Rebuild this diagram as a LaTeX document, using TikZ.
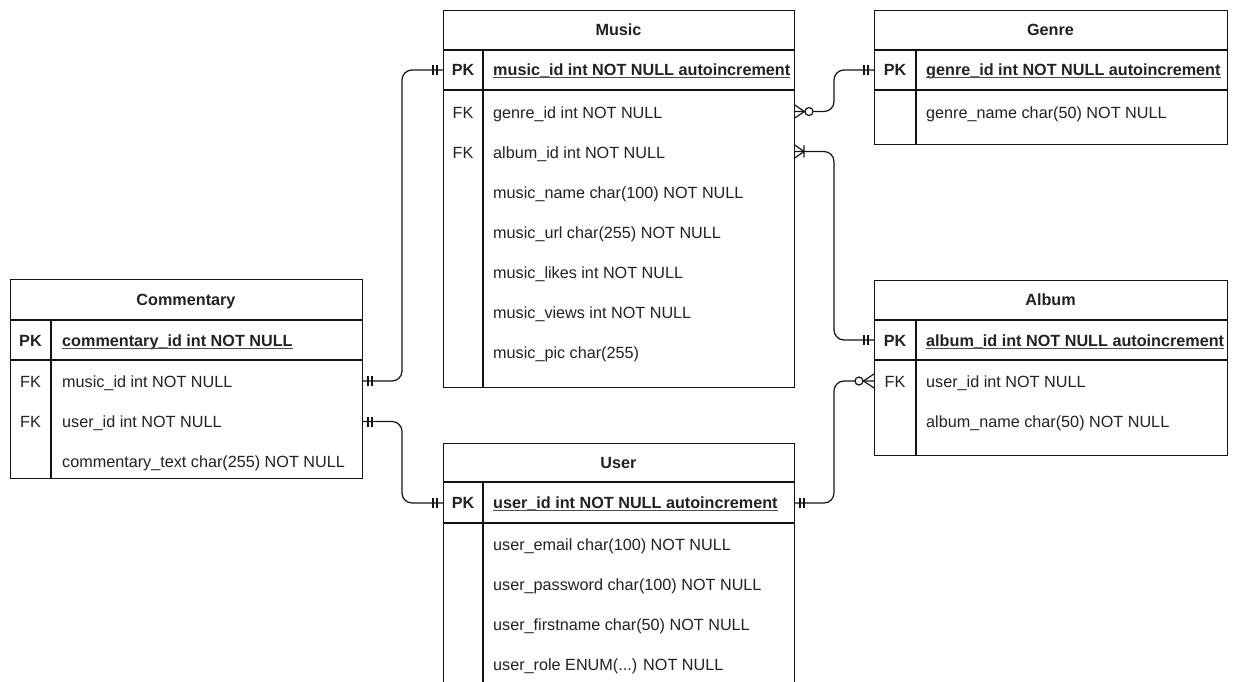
\documentclass[tikz,border=0pt]{standalone}
\usepackage{fontspec}
\setmainfont{Liberation Sans}
\definecolor{txt}{HTML}{222222}
\definecolor{ln}{HTML}{141414}
\begin{document}
\begin{tikzpicture}[x=1pt,y=-1pt,
  frame/.style={draw=ln, line width=1.2pt, fill=white, inner sep=0, anchor=north west},
  sep/.style={draw=ln, line width=1.2pt},
  ttl/.style={anchor=base, inner sep=0, font=\fontsize{16.2}{19}\selectfont\bfseries, text=txt},
  keyc/.style={anchor=base, inner sep=0, font=\fontsize{16.2}{19}\selectfont, text=txt},
  pkc/.style={anchor=base, inner sep=0, font=\fontsize{16.2}{19}\selectfont\bfseries, text=txt},
  fld/.style={anchor=base west, inner sep=0, font=\fontsize{16.2}{19}\selectfont, text=txt},
  pkf/.style={anchor=base west, inner sep=0, font=\fontsize{16.2}{19}\selectfont\bfseries, text=txt},
  uline/.style={draw=txt!80, line width=1pt},
  conn/.style={draw=ln, line width=1.2pt, rounded corners=10pt},
  mk/.style={draw=ln, line width=1.2pt},
  one/.pic={\draw[mk] (6,-5) -- (6,5) (10,-5) -- (10,5);},
  zeromany/.pic={\draw[mk] (0,-7) -- (10.5,0) -- (0,7);
                 \draw[mk, fill=white] (15,0) circle (4);},
  onemany/.pic={\draw[mk] (0,-7) -- (10,0) -- (0,7) (10,-6) -- (10,6);}
]
\useasboundingbox (0,0) rectangle (1234,682);
\clip (0,0) rectangle (1234,682);

% ---------------- Music ----------------
\node[frame, minimum width=351pt, minimum height=377pt] (music) at (443,10) {};
\draw[sep] (443,50) -- (794,50) (443,90) -- (794,90) (483,50) -- (483,387);
\node[ttl] (musicT) at (618.5,35.7) {Music};
\node[pkc] (musicPK) at (463,75.7) {PK};
\node[pkf] (musicId) at (493,75.7) {music\_id int NOT NULL autoincrement};
\draw[uline] ([yshift=-2pt]musicId.base west) -- ([yshift=-2pt]musicId.base east);
\node[keyc] (musicFK1) at (463,118.2) {FK};
\node[fld] (musicGenre) at (493,118.2) {genre\_id int NOT NULL};
\node[keyc] (musicFK2) at (463,158.2) {FK};
\node[fld] (musicAlbum) at (493,158.2) {album\_id int NOT NULL};
\node[fld] (musicName) at (493,198.2) {music\_name char(100) NOT NULL};
\node[fld] (musicUrl) at (493,238.2) {music\_url char(255) NOT NULL};
\node[fld] (musicLikes) at (493,278.2) {music\_likes int NOT NULL};
\node[fld] (musicViews) at (493,318.2) {music\_views int NOT NULL};
\node[fld] (musicPic) at (493,358.2) {music\_pic char(255)};

% ---------------- Genre ----------------
\node[frame, minimum width=353pt, minimum height=134pt] (genre) at (874,10) {};
\draw[sep] (874,50) -- (1227,50) (874,90) -- (1227,90) (916,50) -- (916,144);
\node[ttl] (genreT) at (1050.5,35.7) {Genre};
\node[pkc] (genrePK) at (895,75.7) {PK};
\node[pkf] (genreId) at (926,75.7) {genre\_id int NOT NULL autoincrement};
\draw[uline] ([yshift=-2pt]genreId.base west) -- ([yshift=-2pt]genreId.base east);
\node[fld] (genreName) at (926,118.2) {genre\_name char(50) NOT NULL};

% ---------------- Album ----------------
\node[frame, minimum width=353pt, minimum height=175pt] (album) at (874,280) {};
\draw[sep] (874,320) -- (1227,320) (874,360) -- (1227,360) (916,320) -- (916,455);
\node[ttl] (albumT) at (1050.5,305.7) {Album};
\node[pkc] (albumPK) at (895,346.2) {PK};
\node[pkf] (albumId) at (926,346.2) {album\_id int NOT NULL autoincrement};
\draw[uline] ([yshift=-2pt]albumId.base west) -- ([yshift=-2pt]albumId.base east);
\node[keyc] (albumFK) at (895,387.7) {FK};
\node[fld] (albumUser) at (926,387.7) {user\_id int NOT NULL};
\node[fld] (albumName) at (926,427.7) {album\_name char(50) NOT NULL};

% ---------------- Commentary ----------------
\node[frame, minimum width=352pt, minimum height=199pt] (comm) at (10,279) {};
\draw[sep] (10,320) -- (362,320) (10,360) -- (362,360) (51,320) -- (51,478);
\node[ttl] (commT) at (186,305.2) {Commentary};
\node[pkc] (commPK) at (30.5,346.7) {PK};
\node[pkf] (commId) at (62,346.7) {commentary\_id int NOT NULL};
\draw[uline] ([yshift=-2pt]commId.base west) -- ([yshift=-2pt]commId.base east);
\node[keyc] (commFK1) at (30.5,387.7) {FK};
\node[fld] (commMusic) at (62,387.7) {music\_id int NOT NULL};
\node[keyc] (commFK2) at (30.5,427.7) {FK};
\node[fld] (commUser) at (62,427.7) {user\_id int NOT NULL};
\node[fld] (commText) at (62,467.7) {commentary\_text char(255) NOT NULL};

% ---------------- User ----------------
\node[frame, minimum width=351pt, minimum height=260pt] (user) at (443,443) {};
\draw[sep] (443,482) -- (794,482) (443,523) -- (794,523) (483,482) -- (483,703);
\node[ttl] (userT) at (618.5,468.2) {User};
\node[pkc] (userPK) at (463,508.7) {PK};
\node[pkf] (userId) at (493,508.7) {user\_id int NOT NULL autoincrement};
\draw[uline] ([yshift=-2pt]userId.base west) -- ([yshift=-2pt]userId.base east);
\node[fld] (userEmail) at (493,550.7) {user\_email char(100) NOT NULL};
\node[fld] (userPass) at (493,590.7) {user\_password char(100) NOT NULL};
\node[fld] (userFirst) at (493,630.7) {user\_firstname char(50) NOT NULL};
\node[fld] (userRole) at (493,670.7) {user\_role ENUM(...) NOT NULL};

% ---------------- connector end points ----------------
\coordinate (cMusE) at (362,381);
\coordinate (cUserE) at (362,421.5);
\coordinate (mPkW) at (443,70);
\coordinate (uPkW) at (443,503);
\coordinate (mGenreE) at (794,111.5);
\coordinate (mAlbumE) at (794,151.5);
\coordinate (gPkW) at (874,70);
\coordinate (aPkW) at (874,340);
\coordinate (uPkE) at (794,503);
\coordinate (aUserW) at (874,381);

% ---------------- connectors ----------------
\draw[conn] (cMusE) -- ++(40,0) |- (mPkW);
\draw[conn] (cUserE) -- ++(40,0) |- (uPkW);
\draw[conn] (mGenreE) -- ++(40,0) |- (gPkW);
\draw[conn] (mAlbumE) -- ++(40,0) |- (aPkW);
\draw[conn] (uPkE) -- ++(40,0) |- (aUserW);

% ---------------- end markers ----------------
\pic at (cMusE) {one};
\pic at (cUserE) {one};
\pic[rotate=180] at (mPkW) {one};
\pic[rotate=180] at (uPkW) {one};
\pic[rotate=180] at (gPkW) {one};
\pic[rotate=180] at (aPkW) {one};
\pic at (uPkE) {one};
\pic at (mGenreE) {zeromany};
\pic at (mAlbumE) {onemany};
\pic[rotate=180] at (aUserW) {zeromany};
\end{tikzpicture}
\end{document}
